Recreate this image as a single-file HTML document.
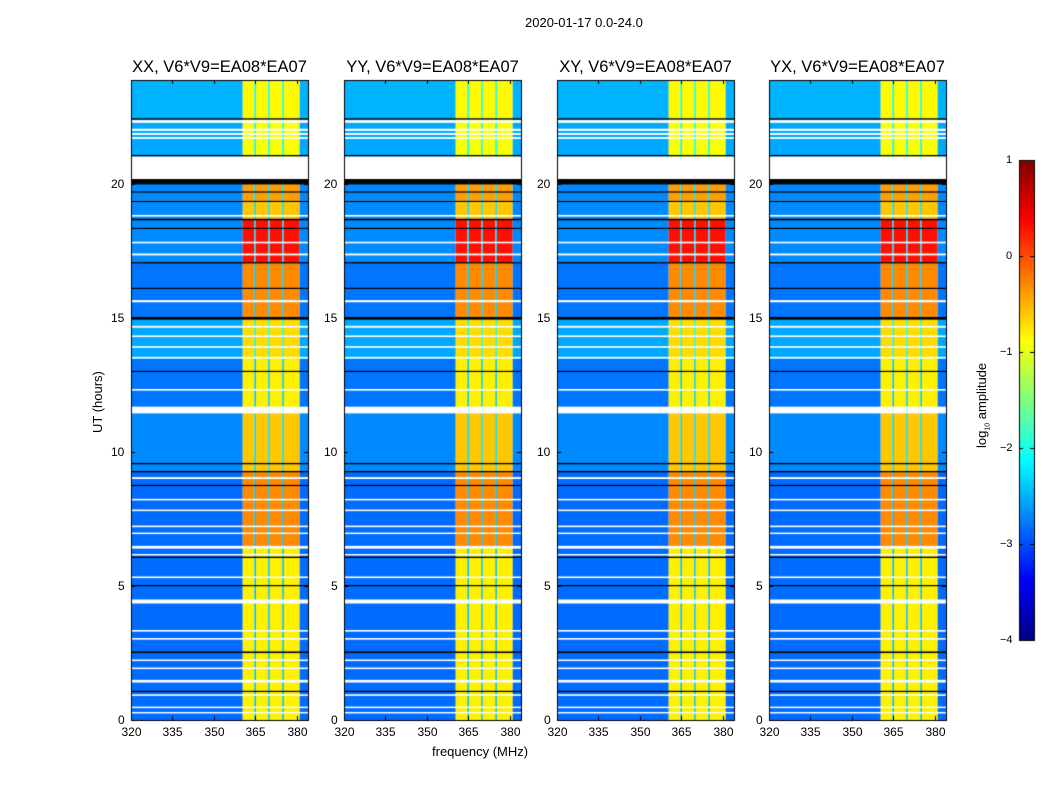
<!DOCTYPE html>
<html><head><meta charset="utf-8"><style>
body{margin:0;background:#fff;font-family:"Liberation Sans","DejaVu Sans",sans-serif;}
#wrap{position:relative;width:1050px;height:800px;overflow:hidden;background:#fff}
.t{position:absolute;font-size:12px;color:#000;white-space:nowrap}
canvas{position:absolute;left:0;top:0}
</style></head><body>
<div id="wrap">
<canvas id="cv" width="1050" height="800"></canvas>
<div class="t" style="left:525px;top:15px;font-size:13px">2020-01-17 0.0-24.0</div>
<div class="t" style="left:90px;top:433px;transform:rotate(-90deg);transform-origin:0 0;font-size:13px">UT (hours)</div>
<div class="t" style="left:432px;top:744px;font-size:13px">frequency (MHz)</div>
<div class="t" style="left:974px;top:448px;transform:rotate(-90deg);transform-origin:0 0;font-size:13px">log<sub style="font-size:7px">10</sub> amplitude</div>
</div>
<script>
const panelTitles=["XX, V6*V9=EA08*EA07","YY, V6*V9=EA08*EA07","XY, V6*V9=EA08*EA07","YX, V6*V9=EA08*EA07"];
const panelLefts=[131,344,557,769];
const xTicks=[320,335,350,365,380];
const yTicks=[0,5,10,15,20];
const cbTicks=[1,0,-1,-2,-3,-4];
// frequency segments [startMHz,endMHz,isRFIband]
const freqSegments=[[320,360.4,0],[360.4,364.6,1],[364.6,365.2,2],[365.2,369.6,1],[369.6,370.2,2],[370.2,374.7,1],[374.7,375.3,2],[375.3,381,1],[381,384,0]];
// time segments [startH,endH,background log amp, rfi-band log amp]
const timeSegments=[[0,6.5,-2.85,-0.8],[6.5,9.3,-2.85,-0.3],[9.3,11.5,-2.7,-0.6],[11.5,13.5,-2.8,-0.8],[13.5,15,-2.55,-0.7],[15,17.1,-2.8,-0.3],[17.1,18.7,-2.7,0.3],[18.7,19.4,-2.7,-0.6],[19.4,20.2,-2.7,-0.4],[20.2,22.4,-2.55,-0.9],[22.4,24,-2.5,-0.85]];
// flagged (white) intervals in hours
const whiteFlags=[[20.2,21.05],[22.3,22.4],[22.0,22.08],[21.85,21.92],[21.7,21.77],[18.8,18.86],[17.8,17.86],[17.35,17.42],[15.6,15.68],[14.65,14.72],[14.3,14.36],[13.9,13.96],[13.5,13.56],[11.45,11.7],[12.3,12.36],[9.0,9.07],[8.2,8.26],[7.8,7.86],[7.2,7.26],[6.95,7.0],[6.4,6.5],[6.15,6.2],[5.3,5.36],[4.35,4.5],[3.3,3.36],[3.0,3.06],[2.2,2.26],[1.9,1.96],[1.4,1.5],[0.9,0.96],[0.45,0.5],[0.25,0.3]];
// black lines (hours)
const blackLines=[[20.0,20.2],[22.42,22.47],[21.05,21.1],[19.7,19.74],[19.35,19.39],[18.66,18.72],[18.35,18.38],[17.05,17.1],[16.1,16.14],[14.95,15.05],[13.0,13.04],[9.55,9.6],[9.25,9.3],[8.75,8.78],[6.05,6.1],[5.0,5.04],[2.5,2.56],[1.05,1.09]];
const fMin=320,fMax=384,hMin=0,hMax=23.9,pTop=80,pBot=720,W=177,cbX=1019,cbW=15,cbTop=160,cbBot=640,cbMin=-4,cbMax=1;
const xs=(l,f)=>l+(f-fMin)/(fMax-fMin)*W;
const ys=h=>pBot-(h-hMin)/(hMax-hMin)*(pBot-pTop);
function jet(v){v=Math.max(0,Math.min(1,v));
 const r=Math.min(4*v-1.5,-4*v+4.5),g=Math.min(4*v-0.5,-4*v+3.5),b=Math.min(4*v+0.5,-4*v+2.5);
 const c=x=>Math.round(255*Math.max(0,Math.min(1,x)));return `rgb(${c(r)},${c(g)},${c(b)})`;}
const col=v=>jet((v-cbMin)/(cbMax-cbMin));
const cv=document.getElementById('cv'),ctx=cv.getContext('2d');
const wrap=document.getElementById('wrap');
panelLefts.forEach((L,p)=>{
 timeSegments.forEach(([h0,h1,bg,rfi])=>{
  freqSegments.forEach(([f0,f1,k])=>{
   const v=k==1?rfi:(k==2?bg+0.4:bg);
   ctx.fillStyle=col(v);
   ctx.fillRect(xs(L,f0),ys(Math.min(h1,hMax)),xs(L,f1)-xs(L,f0),ys(h0)-ys(Math.min(h1,hMax)));
  });
 });
 ctx.fillStyle='#fff';
 whiteFlags.forEach(([a,b])=>ctx.fillRect(L,ys(b),W,Math.max(1.5,ys(a)-ys(b))));
 ctx.fillStyle='#000';
 blackLines.forEach(([a,b])=>ctx.fillRect(L,ys(b),W,Math.max(1.2,ys(a)-ys(b))));
 ctx.strokeStyle='#000';ctx.lineWidth=1;ctx.strokeRect(L+0.5,pTop+0.5,W,pBot-pTop);
 xTicks.forEach(t=>{const x=Math.round(xs(L,t))+0.5;ctx.beginPath();ctx.moveTo(x,pBot);ctx.lineTo(x,pBot-4);ctx.moveTo(x,pTop);ctx.lineTo(x,pTop+4);ctx.stroke();
  const d=document.createElement('div');d.className='t';d.textContent=t;d.style.left=(x-10)+'px';d.style.top=(pBot+5)+'px';
  
  
  wrap.appendChild(d);});
 yTicks.forEach(t=>{const y=Math.round(ys(t))+0.5;ctx.beginPath();ctx.moveTo(L,y);ctx.lineTo(L+4,y);ctx.moveTo(L+W,y);ctx.lineTo(L+W-4,y);ctx.stroke();
  const d=document.createElement('div');d.className='t';d.textContent=t;d.style.left=(L-6-(t>=10?14:7))+'px';d.style.top=(y-8)+'px';
  
  
  wrap.appendChild(d);});
 const tt=document.createElement('div');tt.className='t';tt.textContent=panelTitles[p];tt.style.fontSize='16.5px';tt.style.left=(L-20)+'px';tt.style.top='58px';tt.style.width=(W+40)+'px';tt.style.textAlign='center';
 
 
 wrap.appendChild(tt);
});
for(let y=cbTop;y<cbBot;y++){const v=cbMax-(y-cbTop+0.5)/(cbBot-cbTop)*(cbMax-cbMin);ctx.fillStyle=col(v);ctx.fillRect(cbX,y,cbW,1);}
ctx.strokeStyle='#000';ctx.strokeRect(cbX+0.5,cbTop+0.5,cbW,cbBot-cbTop);
cbTicks.forEach(t=>{const y=Math.round(cbTop+(cbMax-t)/(cbMax-cbMin)*(cbBot-cbTop))+0.5;
 ctx.beginPath();ctx.moveTo(cbX,y);ctx.lineTo(cbX+4,y);ctx.moveTo(cbX+cbW,y);ctx.lineTo(cbX+cbW-4,y);ctx.stroke();
 const d=document.createElement('div');d.className='t';d.textContent=(t<0?'\u2212':'')+Math.abs(t);d.style.fontSize='11px';d.style.left=(t<0?1000:1006)+'px';d.style.top=(y-7)+'px';
 
 
 wrap.appendChild(d);});
</script>
</body></html>
